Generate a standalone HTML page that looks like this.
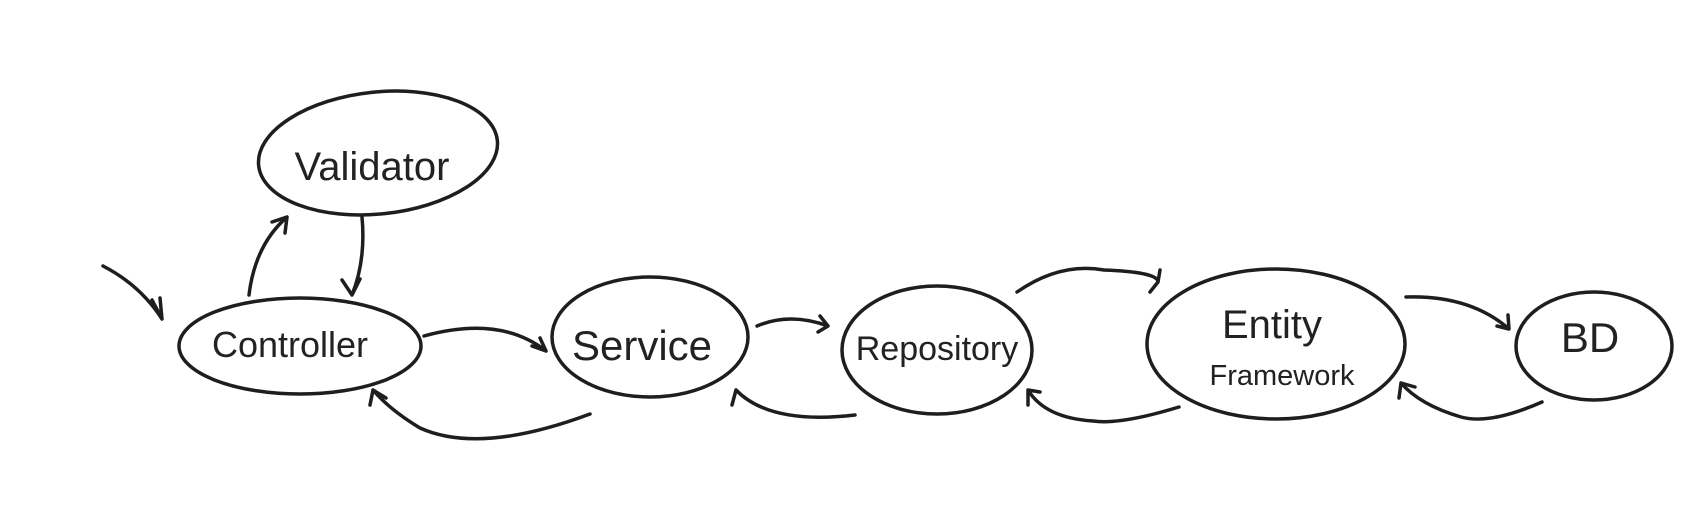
<!DOCTYPE html>
<html><head><meta charset="utf-8"><style>
html,body{margin:0;padding:0;background:#fff;width:1696px;height:532px;overflow:hidden}
svg{display:block}
text{font-family:"Liberation Sans",sans-serif;fill:#222;text-anchor:middle}
</style></head><body>
<svg width="1696" height="532" viewBox="0 0 1696 532" fill="none" stroke="#1e1e1e" stroke-width="3.5" stroke-linecap="round" stroke-linejoin="round">
<ellipse cx="378" cy="153" rx="120" ry="61" transform="rotate(-6 378 153)"/>
<ellipse cx="300" cy="346" rx="121" ry="48"/>
<ellipse cx="650" cy="337" rx="98" ry="60"/>
<ellipse cx="937" cy="350" rx="95" ry="64"/>
<ellipse cx="1276" cy="344" rx="129" ry="75"/>
<ellipse cx="1594" cy="346" rx="78" ry="54"/>
<path d="M103 266 Q140 285 162 319 M152 300 L162 319 L160 298"/>
<path d="M249 295 Q255 245 287 217 M272 222 L287 217 L285 233"/>
<path d="M362 217 Q366 260 352 295 M342 280 L352 295 L360 279"/>
<path d="M424 336 Q500 315 546 351 M532 346 L546 351 L540 338"/>
<path d="M590 414 Q480 455 420 428 Q390 410 373 390 M370 405 L373 390 L386 398"/>
<path d="M757 326 Q790 312 828 326 M820 316 L828 326 L818 332"/>
<path d="M855 415 Q770 425 736 390 M732 405 L736 390"/>
<path d="M1017 292 Q1060 262 1104 270 Q1158 272 1158 282 M1150 292 L1158 282 L1160 270"/>
<path d="M1179 407 Q1120 425 1093 421 Q1045 418 1028 390 M1028 405 L1028 390 L1040 392"/>
<path d="M1406 297 Q1470 295 1509 329 M1497 326 L1509 329 L1508 315"/>
<path d="M1542 402 Q1490 425 1461 417 Q1420 405 1401 383 M1399 398 L1401 383 L1415 387"/>
<g stroke="none">
<text x="372" y="180" font-size="40">Validator</text>
<text x="290" y="357" font-size="36">Controller</text>
<text x="642" y="360" font-size="42">Service</text>
<text x="937" y="360" font-size="34">Repository</text>
<text x="1272" y="338" font-size="40">Entity</text>
<text x="1282" y="385" font-size="29">Framework</text>
<text x="1590" y="352" font-size="42">BD</text>
</g>
</svg>
</body></html>
